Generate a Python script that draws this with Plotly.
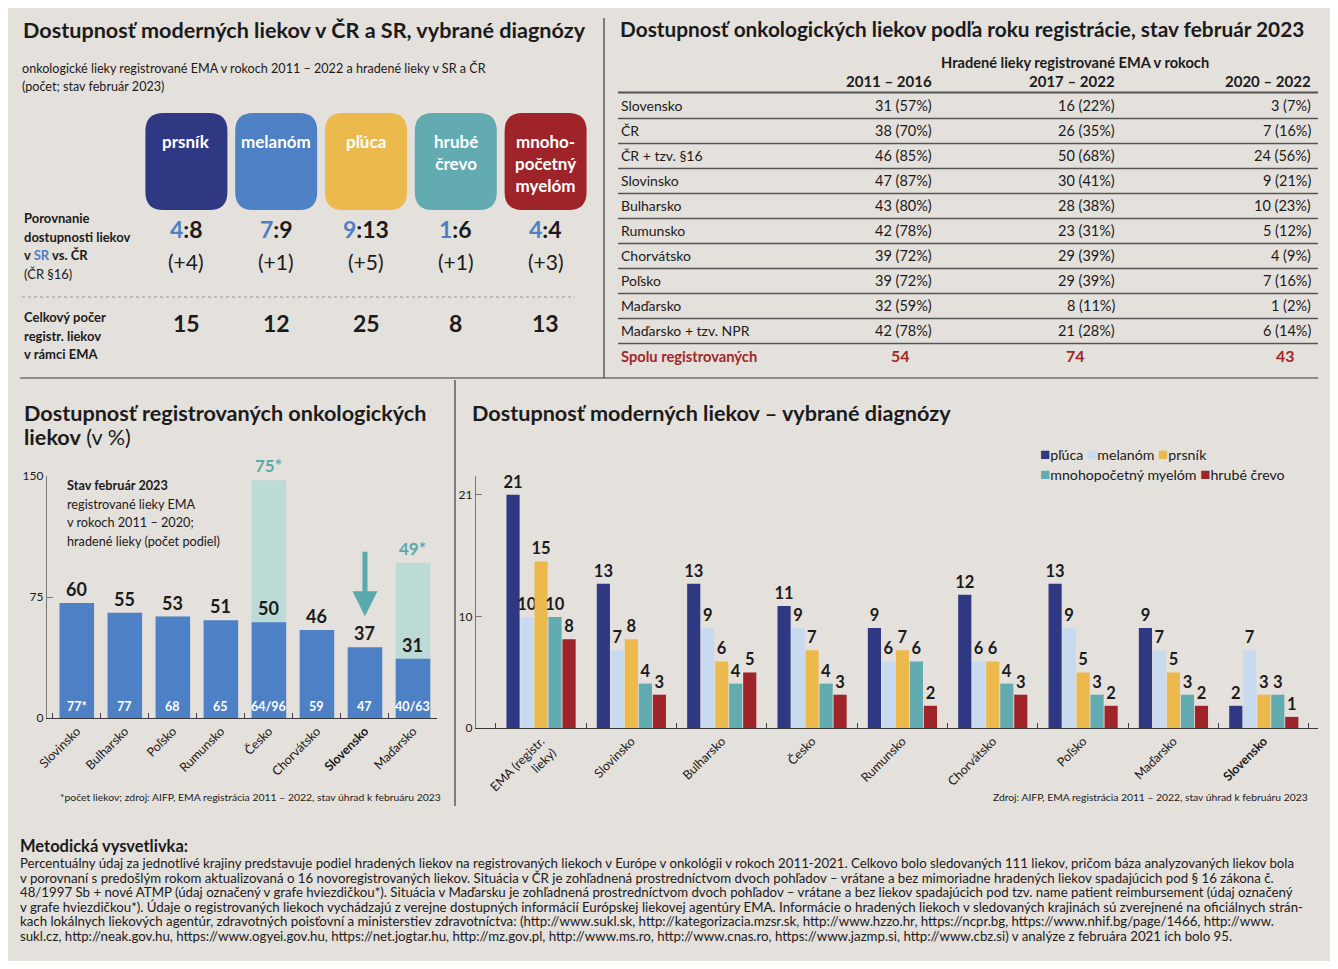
import plotly.graph_objects as go

# the page body adds an 8 px margin; the figure is sized to fill the rest of the window
OX, OY = 8, 8
W, H = 1330, 961


def px(x):
    return (x - OX) / W


def py(y):
    return 1 - (y - OY) / H


BG = "#e4e0dc"
NAVY = "#2f3882"
BLUE = "#4d80c4"
YELLOW = "#ecba4c"
TEAL = "#62abb0"
RED = "#9f2429"
LIGHTBLUE = "#c7daf0"
LIGHTTEAL = "#bddbd6"
TEALTXT = "#5aa9ad"
DARKRED = "#a0282a"
INK = "#1b1b1b"
LINE = "#3a3a3a"

FONT = "Lato, 'Liberation Sans', Roboto, sans-serif"
TITLE_SIZE = 21.6

# ---------------- data: top-left block ----------------
diag_labels = ["prsník", "melanóm", "pľúca", "hrubé<br>črevo", "mnoho-<br>početný<br>myelóm"]
diag_box_colors = [NAVY, BLUE, YELLOW, TEAL, RED]
sr_counts = [4, 7, 9, 1, 4]
cr_counts = [8, 9, 13, 6, 4]
cr16_extra = [4, 1, 5, 1, 3]
ema_totals = [15, 12, 25, 8, 13]
compare_label = ["<b>Porovnanie</b>", "<b>dostupnosti liekov</b>",
                 f"<b>v <span style='color:{BLUE}'>SR</span> vs. ČR</b>", "(ČR §16)"]
total_label = ["<b>Celkový počer</b>", "<b>registr. liekov</b>", "<b>v rámci EMA</b>"]

# ---------------- data: table ----------------
table_countries = ["Slovensko", "ČR", "ČR + tzv. §16", "Slovinsko", "Bulharsko", "Rumunsko",
                   "Chorvátsko", "Poľsko", "Maďarsko", "Maďarsko + tzv. NPR"]
cnt_2011_2016 = [31, 38, 46, 47, 43, 42, 39, 39, 32, 42]
pct_2011_2016 = [57, 70, 85, 87, 80, 78, 72, 72, 59, 78]
cnt_2017_2022 = [16, 26, 50, 30, 28, 23, 29, 29, 8, 21]
pct_2017_2022 = [22, 35, 68, 41, 38, 31, 39, 39, 11, 28]
cnt_2020_2022 = [3, 7, 24, 9, 10, 5, 4, 7, 1, 6]
pct_2020_2022 = [7, 16, 56, 21, 23, 12, 9, 16, 2, 14]
period_labels = ["2011 – 2016", "2017 – 2022", "2020 – 2022"]
registered_totals = [54, 74, 43]

# ---------------- data: bottom-left chart ----------------
avail_countries = ["Slovinsko", "Bulharsko", "Poľsko", "Rumunsko", "Česko", "Chorvátsko", "Slovensko", "Maďarsko"]
avail_pct = [60, 55, 53, 51, 50, 46, 37, 31]
avail_counts = ["77*", "77", "68", "65", "64/96", "59", "47", "40/63"]
avail_pct_alt = [None, None, None, None, 75, None, None, 49]
avail_note = ["<b>Stav február 2023</b>", "registrované lieky EMA", "v rokoch 2011 – 2020;",
              "hradené lieky (počet podiel)"]

# ---------------- data: bottom-right chart ----------------
diag_countries = ["EMA (registr. lieky)", "Slovinsko", "Bulharsko", "Česko", "Rumunsko",
                  "Chorvátsko", "Poľsko", "Maďarsko", "Slovensko"]
series_names = ["pľúca", "melanóm", "prsník", "mnohopočetný myelóm", "hrubé črevo"]
pluca = [21, 13, 13, 11, 9, 12, 13, 9, 2]
melanom = [10, 7, 9, 9, 6, 6, 9, 7, 7]
prsnik = [15, 8, 6, 7, 7, 6, 5, 5, 3]
myelom = [10, 4, 4, 4, 6, 4, 3, 3, 3]
crevo = [8, 3, 5, 3, 2, 3, 2, 2, 1]
series_values = [pluca, melanom, prsnik, myelom, crevo]
series_colors = [NAVY, LIGHTBLUE, YELLOW, TEAL, RED]
legend_rows = [[0, 1, 2], [3, 4]]

method_lines = [
    "Percentuálny údaj za jednotlivé krajiny predstavuje podiel hradených liekov na registrovaných liekoch v Európe v onkológii v rokoch 2011-2021. Celkovo bolo sledovaných 111 liekov, pričom báza analyzovaných liekov bola",
    "v porovnaní s predošlým rokom aktualizovaná o 16 novoregistrovaných liekov. Situácia v ČR je zohľadnená prostredníctvom dvoch pohľadov – vrátane a bez mimoriadne hradených liekov spadajúcich pod § 16 zákona č.",
    "48/1997 Sb + nové ATMP (údaj označený v grafe hviezdičkou*). Situácia v Maďarsku je zohľadnená prostredníctvom dvoch pohľadov – vrátane a bez liekov spadajúcich pod tzv. name patient reimbursement (údaj označený",
    "v grafe hviezdičkou*). Údaje o registrovaných liekoch vychádzajú z verejne dostupných informácií Európskej liekovej agentúry EMA. Informácie o hradených liekoch v sledovaných krajinách sú zverejnené na oficiálnych strán-",
    "kach lokálnych liekových agentúr, zdravotných poisťovní a ministerstiev zdravotníctva: (http://www.sukl.sk, http://kategorizacia.mzsr.sk, http://www.hzzo.hr, https://ncpr.bg, https://www.nhif.bg/page/1466, http://www.",
    "sukl.cz, http://neak.gov.hu, https://www.ogyei.gov.hu, https://net.jogtar.hu, http://mz.gov.pl, http://www.ms.ro, http://www.cnas.ro, https://www.jazmp.si, http://www.cbz.si) v analýze z februára 2021 ich bolo 95.",
]

fig = go.Figure()

# ---------------- bottom-left chart traces ----------------
fig.add_trace(go.Scatter(x=avail_countries, y=[0] * len(avail_countries), xaxis="x", yaxis="y",
                         mode="markers", marker=dict(opacity=0), showlegend=False, hoverinfo="skip"))
fig.add_trace(go.Bar(x=avail_countries, y=avail_pct_alt, xaxis="x", yaxis="y2", width=0.72,
                     marker=dict(color=LIGHTTEAL, line=dict(width=0)), showlegend=False, hoverinfo="skip"))
fig.add_trace(go.Bar(x=avail_countries, y=avail_pct, xaxis="x", yaxis="y3", width=0.72,
                     marker=dict(color=BLUE, line=dict(width=0)), showlegend=False))

# ---------------- bottom-right chart traces ----------------
for i, (name, vals, col) in enumerate(zip(series_names, series_values, series_colors)):
    fig.add_trace(go.Bar(
        x=diag_countries, y=vals, name=name, xaxis="x2", yaxis="y4",
        marker=dict(color=col, line=dict(width=0)),
        text=vals, texttemplate="<b>%{text}</b>", textposition="outside",
        textfont=dict(family=FONT, size=16.5, color=INK), constraintext="none",
        cliponaxis=False, showlegend=False,
    ))

# dummy traces for helper axes (table, top-left block)
fig.add_trace(go.Scatter(x=[0], y=[0], xaxis="x3", yaxis="y5", mode="markers",
                         marker=dict(opacity=0), showlegend=False, hoverinfo="skip"))
fig.add_trace(go.Scatter(x=[0], y=[0], xaxis="x4", yaxis="y6", mode="markers",
                         marker=dict(opacity=0), showlegend=False, hoverinfo="skip"))

shapes = []
ann = []

# background panel
shapes.append(dict(type="rect", xref="paper", yref="paper", x0=px(6), x1=px(1331), y0=py(961), y1=py(4),
                   fillcolor=BG, line=dict(width=0), layer="below"))
# separators
shapes.append(dict(type="line", xref="paper", yref="paper", x0=px(604), x1=px(604), y0=py(18), y1=py(378),
                   line=dict(color=LINE, width=1.2)))
shapes.append(dict(type="line", xref="paper", yref="paper", x0=px(20), x1=px(1318), y0=py(378), y1=py(378),
                   line=dict(color=LINE, width=1.2)))
shapes.append(dict(type="line", xref="paper", yref="paper", x0=px(455), x1=px(455), y0=py(380), y1=py(806),
                   line=dict(color=LINE, width=1.2)))
# dotted rule in top-left
shapes.append(dict(type="line", xref="paper", yref="paper", x0=px(22), x1=px(575), y0=py(297), y1=py(297),
                   line=dict(color="#9a9693", width=1, dash="dot")))


def txt(x, y, text, size=14, color=INK, xanchor="left", yanchor="middle", xref="paper",
        yref="paper", align="left", **kw):
    d = dict(x=x, y=y, text=text, xref=xref, yref=yref, xanchor=xanchor, yanchor=yanchor, showarrow=False,
             align=align, font=dict(family=FONT, size=size, color=color))
    d.update(kw)
    return d


# ---------------- top-left block ----------------
ann.append(txt(px(21), py(30), "<b>Dostupnosť moderných liekov v ČR a SR, vybrané diagnózy</b>", size=TITLE_SIZE))
ann.append(txt(px(20), py(68), "onkologické lieky registrované EMA v rokoch 2011 – 2022 a hradené lieky v SR a ČR",
               size=12.6))
ann.append(txt(px(20), py(86), "(počet; stav február 2023)", size=12.6))

x4_left, x4_right = 141.5, 590.5
unit_px = (x4_right - x4_left) / 5.0
half_w = 41 / unit_px
rx = 18 / unit_px
ry = 18 / H
top, bot = py(113), py(210)
for i, (lab, col) in enumerate(zip(diag_labels, diag_box_colors)):
    x0, x1 = i - half_w, i + half_w
    path = (f"M {x0 + rx},{top} L {x1 - rx},{top} Q {x1},{top} {x1},{top - ry} "
            f"L {x1},{bot + ry} Q {x1},{bot} {x1 - rx},{bot} L {x0 + rx},{bot} "
            f"Q {x0},{bot} {x0},{bot + ry} L {x0},{top - ry} Q {x0},{top} {x0 + rx},{top} Z")
    shapes.append(dict(type="path", xref="x4", yref="paper", path=path, fillcolor=col, line=dict(width=0)))
    ann.append(txt(i, py(129), f"<b>{lab}</b>", size=17, color="white", xref="x4", xanchor="center",
                   yanchor="top", align="center"))
    ann.append(txt(i, py(229), f"<b><span style='color:{BLUE}'>{sr_counts[i]}</span>:{cr_counts[i]}</b>",
                   size=23, xref="x4", xanchor="center"))
    ann.append(txt(i, py(261), f"(+{cr16_extra[i]})", size=21, xref="x4", xanchor="center"))
    ann.append(txt(i, py(323), f"<b>{ema_totals[i]}</b>", size=23, xref="x4", xanchor="center"))

for j, line in enumerate(compare_label):
    ann.append(txt(px(22), py(218 + 18.7 * j), line, size=13))
for j, line in enumerate(total_label):
    ann.append(txt(px(22), py(317 + 18.5 * j), line, size=13))

# ---------------- table ----------------
ann.append(txt(px(618), py(29), "<b>Dostupnosť onkologických liekov podľa roku registrácie, stav február 2023</b>",
               size=20.8))
ann.append(txt(px(1075), py(62), "<b>Hradené lieky registrované EMA v rokoch</b>", size=14.6, xanchor="center"))
col_right = [934, 1117, 1313]
for xr, lab in zip(col_right, period_labels):
    ann.append(txt(px(xr), py(81), f"<b>{lab}</b>", size=15, xanchor="right"))
shapes.append(dict(type="line", xref="paper", yref="paper", x0=px(618), x1=px(1318), y0=py(92.5), y1=py(92.5),
                   line=dict(color="#555", width=2)))
cols = [(cnt_2011_2016, pct_2011_2016), (cnt_2017_2022, pct_2017_2022), (cnt_2020_2022, pct_2020_2022)]
for r, c in enumerate(table_countries):
    ann.append(txt(px(619), r, c, size=14, yref="y5"))
    for xr, (cn, pc) in zip(col_right, cols):
        ann.append(txt(px(xr), r, f"{cn[r]} ({pc[r]}%)", size=14.5, xanchor="right", yref="y5"))
    shapes.append(dict(type="line", xref="paper", yref="y5", x0=px(618), x1=px(1318), y0=r + 0.5, y1=r + 0.5,
                       line=dict(color="#555", width=1.3)))
nr = len(table_countries)
ann.append(txt(px(619), nr, "<b>Spolu registrovaných</b>", size=14.7, color=DARKRED, yref="y5"))
for xc, v in zip([900, 1075, 1285], registered_totals):
    ann.append(txt(px(xc), nr, f"<b>{v}</b>", size=16, color=DARKRED, yref="y5", xanchor="center"))

# ---------------- bottom-left chart ----------------
ann.append(txt(px(22), py(413), "<b>Dostupnosť registrovaných onkologických</b>", size=TITLE_SIZE))
ann.append(txt(px(22), py(437), "<b>liekov</b> (v %)", size=TITLE_SIZE))
for j, line in enumerate(avail_note):
    ann.append(txt(px(65), py(485 + 18.7 * j), line, size=12.7))
for c, v, n, alt in zip(avail_countries, avail_pct, avail_counts, avail_pct_alt):
    ann.append(txt(c, v, f"<b>{v}</b>", size=18, xref="x", yref="y3", xanchor="center", yanchor="bottom",
                   yshift=1))
    ann.append(txt(c, 0, f"<b>{n}</b>", size=12.5, color="white", xref="x", yref="y3", xanchor="center",
                   yanchor="bottom", yshift=2))
    if alt is not None:
        ann.append(txt(c, alt, f"<b>{alt}*</b>", size=17, color=TEALTXT, xref="x", yref="y2",
                       xanchor="center", yanchor="bottom", yshift=2))
sk = avail_countries.index("Slovensko")
ann.append(dict(x=avail_countries[sk], y=avail_pct[sk], xref="x", yref="y3", text="", showarrow=True,
                ax=0, ay=-97, standoff=31, arrowhead=2, arrowsize=1, arrowwidth=5, arrowcolor=TEALTXT))
ann.append(txt(px(443), py(797), "*počet liekov; zdroj: AIFP, EMA registrácia 2011 – 2022, stav úhrad k februáru 2023",
               size=10.4, xanchor="right"))

# ---------------- bottom-right chart ----------------
ann.append(txt(px(470), py(413), "<b>Dostupnosť moderných liekov – vybrané diagnózy</b>", size=TITLE_SIZE))
ann.append(txt(px(1310), py(797), "Zdroj: AIFP, EMA registrácia 2011 – 2022, stav úhrad k februáru 2023",
               size=10.3, xanchor="right"))
# legend (two rows, as in the original layout)
for row, yy in zip(legend_rows, [454, 473]):
    parts = [f"<span style='color:{series_colors[k]};font-size:17px'>■</span>{series_names[k]}" for k in row]
    ann.append(txt(px(1038), py(yy), " ".join(parts), size=14.2))

# ---------------- methodology ----------------
ann.append(txt(px(18), py(846), "<b>Metodická vysvetlivka:</b>", size=16.5))
for i, line in enumerate(method_lines):
    ann.append(txt(px(18), py(863 + 14.6 * i), line, size=13.25))

tickfont = dict(family=FONT, size=12.5, color=INK)
left_ticktext = [f"<b>{c}</b>" if c == "Slovensko" else c for c in avail_countries]
right_ticktext = []
for c in diag_countries:
    if c == "Slovensko":
        right_ticktext.append(f"<b>{c}</b>")
    elif c.startswith("EMA"):
        right_ticktext.append(c.replace(" lieky", "<br>lieky"))
    else:
        right_ticktext.append(c)

fig.update_layout(
    width=W, height=H, margin=dict(l=0, r=0, t=0, b=0, autoexpand=False),
    paper_bgcolor="white", plot_bgcolor="rgba(0,0,0,0)",
    barmode="group", bargap=0.225, bargroupgap=0.06,
    font=dict(family=FONT, color=INK),
    shapes=shapes, annotations=ann, showlegend=False,
    xaxis=dict(domain=[px(47), px(437)], anchor="y", range=[-0.62, 7.5], type="category",
               tickmode="array", tickvals=avail_countries, ticktext=left_ticktext, tickangle=-45,
               tickfont=tickfont, showline=True, linecolor=LINE, linewidth=1.2, ticks="inside",
               tickson="boundaries", ticklen=5, tickcolor=LINE, showgrid=False, zeroline=False,
               automargin=False),
    yaxis=dict(domain=[py(718), py(476)], anchor="x", range=[0, 150], tickvals=[0, 75, 150],
               ticks="inside", ticklen=6, tickcolor="#777", showline=True, linecolor="#777", linewidth=1.2,
               tickfont=dict(family=FONT, size=12, color=INK), showgrid=False, zeroline=False,
               automargin=False),
    yaxis2=dict(overlaying="y", anchor="x", range=[0, 242 / 3.17], visible=False, automargin=False),
    yaxis3=dict(overlaying="y", anchor="x", range=[0, 242 / 1.915], visible=False, automargin=False),
    xaxis2=dict(domain=[px(476), px(1318)], anchor="y4", range=[-0.72, 8.6], type="category",
                tickmode="array", tickvals=diag_countries, ticktext=right_ticktext, tickangle=-45,
                tickfont=tickfont, showline=True, linecolor=LINE, linewidth=1.2, ticks="inside",
                tickson="boundaries", ticklen=5, tickcolor=LINE, showgrid=False, zeroline=False,
                automargin=False),
    yaxis4=dict(domain=[py(728), py(476)], anchor="x2", range=[0, 22.7], tickvals=[0, 10, 21],
                ticks="inside", ticklen=6, tickcolor="#777", showline=True, linecolor="#777", linewidth=1.2,
                tickfont=dict(family=FONT, size=12, color=INK), showgrid=False, zeroline=False,
                automargin=False),
    xaxis3=dict(domain=[0, 1], anchor="y5", range=[0, 1], visible=False, automargin=False),
    yaxis5=dict(domain=[py(368.5), py(93.5)], anchor="x3", range=[10.5, -0.5], visible=False, automargin=False),
    xaxis4=dict(domain=[px(x4_left), px(x4_right)], anchor="y6", range=[-0.5, 4.5], visible=False,
                automargin=False),
    yaxis6=dict(domain=[py(300), py(100)], anchor="x4", range=[0, 1], visible=False, automargin=False),
)

fig.write_html("out.html")
